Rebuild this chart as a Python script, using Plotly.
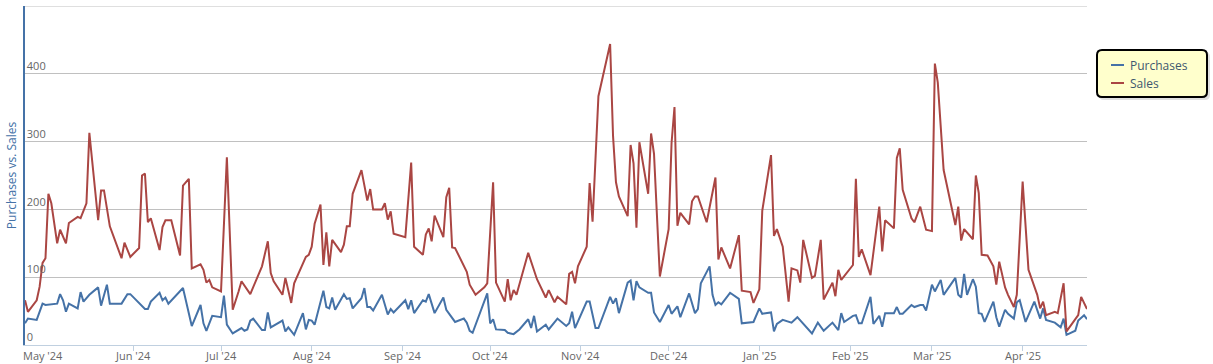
import plotly.graph_objects as go

# ---- data ----
sales_dates = [
    "2024-04-25","2024-04-26","2024-04-29","2024-04-30","2024-05-01","2024-05-02","2024-05-03","2024-05-04",
    "2024-05-06","2024-05-07","2024-05-09","2024-05-10","2024-05-13","2024-05-14","2024-05-16","2024-05-17",
    "2024-05-20","2024-05-21","2024-05-22","2024-05-24","2024-05-28","2024-05-29","2024-05-31","2024-06-03",
    "2024-06-04","2024-06-05","2024-06-06","2024-06-07","2024-06-10","2024-06-11","2024-06-12","2024-06-14",
    "2024-06-17","2024-06-18","2024-06-20","2024-06-21","2024-06-24","2024-06-25","2024-06-26","2024-06-27",
    "2024-06-28","2024-07-01","2024-07-03","2024-07-05","2024-07-07","2024-07-08","2024-07-11","2024-07-15",
    "2024-07-17","2024-07-18","2024-07-19","2024-07-22","2024-07-23","2024-07-25","2024-07-26","2024-07-30",
    "2024-07-31","2024-08-01","2024-08-02","2024-08-04","2024-08-05","2024-08-06","2024-08-07","2024-08-08",
    "2024-08-11","2024-08-12","2024-08-13","2024-08-14","2024-08-15","2024-08-18","2024-08-20","2024-08-21",
    "2024-08-22","2024-08-25","2024-08-26","2024-08-27","2024-08-28","2024-08-29","2024-09-02","2024-09-04",
    "2024-09-05","2024-09-08","2024-09-09","2024-09-10","2024-09-11","2024-09-12","2024-09-15","2024-09-16",
    "2024-09-17","2024-09-18","2024-09-19","2024-09-23","2024-09-24","2024-09-26","2024-09-29","2024-09-30",
    "2024-10-02","2024-10-03","2024-10-06","2024-10-07","2024-10-08","2024-10-09","2024-10-10","2024-10-14",
    "2024-10-17","2024-10-20","2024-10-21","2024-10-23","2024-10-24","2024-10-27","2024-10-28","2024-10-29",
    "2024-10-30","2024-10-31","2024-11-03","2024-11-04","2024-11-05","2024-11-07","2024-11-11","2024-11-12",
    "2024-11-13","2024-11-14","2024-11-17","2024-11-18","2024-11-19","2024-11-20","2024-11-21","2024-11-24",
    "2024-11-25","2024-11-26","2024-11-28","2024-12-01","2024-12-02","2024-12-03","2024-12-04","2024-12-05",
    "2024-12-08","2024-12-09","2024-12-10","2024-12-11","2024-12-14","2024-12-17","2024-12-18","2024-12-19",
    "2024-12-22","2024-12-25","2024-12-26","2024-12-29","2024-12-30","2025-01-01","2025-01-02","2025-01-05",
    "2025-01-06","2025-01-07","2025-01-09","2025-01-11","2025-01-12","2025-01-14","2025-01-15","2025-01-16",
    "2025-01-19","2025-01-20","2025-01-22","2025-01-23","2025-01-26","2025-01-27","2025-01-28","2025-01-29",
    "2025-02-02","2025-02-03","2025-02-04","2025-02-05","2025-02-08","2025-02-11","2025-02-12","2025-02-13",
    "2025-02-16","2025-02-17","2025-02-18","2025-02-19","2025-02-22","2025-02-23","2025-02-25","2025-02-27",
    "2025-03-01","2025-03-02","2025-03-03","2025-03-05","2025-03-09","2025-03-10","2025-03-11","2025-03-12",
    "2025-03-15","2025-03-16","2025-03-17","2025-03-18","2025-03-20","2025-03-22","2025-03-23","2025-03-24",
    "2025-03-26","2025-03-27","2025-03-29","2025-03-30","2025-04-01","2025-04-03","2025-04-06","2025-04-07",
    "2025-04-08","2025-04-09","2025-04-12","2025-04-13","2025-04-15","2025-04-16","2025-04-20","2025-04-21",
    "2025-04-23",
]
sales_values = [
    66, 49, 66, 86, 121, 128, 223, 209,
    150, 170, 150, 180, 189, 187, 209, 313,
    184, 228, 228, 175, 128, 151, 130, 143,
    250, 253, 181, 187, 140, 174, 184, 184,
    132, 235, 245, 113, 119, 111, 92, 96,
    85, 79, 277, 52, 79, 94, 75, 116,
    153, 106, 94, 74, 99, 62, 91, 130,
    133, 145, 179, 207, 118, 166, 116, 155,
    137, 148, 175, 175, 223, 258, 213, 230,
    200, 200, 209, 185, 197, 164, 159, 269,
    145, 133, 163, 172, 153, 191, 159, 218,
    232, 144, 143, 108, 89, 74, 85, 91,
    240, 92, 64, 97, 66, 81, 74, 136,
    97, 70, 81, 63, 71, 60, 105, 108,
    91, 116, 145, 239, 182, 367, 444, 308,
    240, 219, 190, 295, 268, 173, 299, 223,
    312, 282, 101, 171, 298, 351, 176, 195,
    178, 212, 219, 219, 181, 247, 126, 144,
    113, 162, 80, 78, 62, 82, 198, 280,
    161, 171, 145, 64, 113, 110, 92, 155,
    99, 102, 155, 67, 92, 72, 111, 96,
    118, 245, 130, 141, 103, 204, 138, 184,
    172, 276, 290, 229, 187, 181, 204, 170,
    168, 415, 387, 258, 177, 204, 154, 171,
    156, 250, 224, 133, 132, 116, 89, 123,
    85, 74, 56, 74, 241, 111, 74, 54,
    64, 44, 49, 47, 91, 20, 44, 71,
    53,
]

purchase_dates = [
    "2024-04-25","2024-04-26","2024-04-29","2024-05-01","2024-05-02","2024-05-06","2024-05-07","2024-05-08",
    "2024-05-09","2024-05-10","2024-05-13","2024-05-14","2024-05-15","2024-05-17","2024-05-20","2024-05-21",
    "2024-05-23","2024-05-24","2024-05-28","2024-05-30","2024-05-31","2024-06-05","2024-06-06","2024-06-07",
    "2024-06-10","2024-06-11","2024-06-12","2024-06-13","2024-06-18","2024-06-21","2024-06-24","2024-06-25",
    "2024-06-26","2024-06-28","2024-07-01","2024-07-02","2024-07-03","2024-07-05","2024-07-08","2024-07-09",
    "2024-07-10","2024-07-11","2024-07-12","2024-07-15","2024-07-16","2024-07-17","2024-07-18","2024-07-22",
    "2024-07-23","2024-07-24","2024-07-26","2024-07-29","2024-07-30","2024-07-31","2024-08-01","2024-08-02",
    "2024-08-05","2024-08-06","2024-08-07","2024-08-08","2024-08-09","2024-08-12","2024-08-13","2024-08-14",
    "2024-08-15","2024-08-18","2024-08-19","2024-08-20","2024-08-21","2024-08-22","2024-08-25","2024-08-27",
    "2024-08-28","2024-08-29","2024-09-02","2024-09-03","2024-09-04","2024-09-05","2024-09-08","2024-09-09",
    "2024-09-10","2024-09-12","2024-09-15","2024-09-16","2024-09-19","2024-09-22","2024-09-23","2024-09-24",
    "2024-09-25","2024-09-30","2024-10-01","2024-10-02","2024-10-03","2024-10-06","2024-10-07","2024-10-09",
    "2024-10-11","2024-10-14","2024-10-15","2024-10-16","2024-10-17","2024-10-20","2024-10-21","2024-10-24",
    "2024-10-27","2024-10-28","2024-10-29","2024-10-30","2024-11-03","2024-11-04","2024-11-06","2024-11-07",
    "2024-11-11","2024-11-12","2024-11-13","2024-11-14","2024-11-17","2024-11-18","2024-11-19","2024-11-20",
    "2024-11-21","2024-11-24","2024-11-25","2024-11-26","2024-11-28","2024-12-01","2024-12-02","2024-12-04",
    "2024-12-05","2024-12-08","2024-12-10","2024-12-11","2024-12-12","2024-12-15","2024-12-16","2024-12-17",
    "2024-12-18","2024-12-19","2024-12-22","2024-12-25","2024-12-26","2024-12-30","2025-01-01","2025-01-02",
    "2025-01-05","2025-01-06","2025-01-07","2025-01-09","2025-01-12","2025-01-14","2025-01-19","2025-01-21",
    "2025-01-23","2025-01-26","2025-01-28","2025-01-29","2025-01-30","2025-02-02","2025-02-03","2025-02-04",
    "2025-02-05","2025-02-08","2025-02-09","2025-02-11","2025-02-12","2025-02-13","2025-02-16","2025-02-17",
    "2025-02-18","2025-02-19","2025-02-22","2025-02-23","2025-02-25","2025-02-26","2025-02-27","2025-03-01",
    "2025-03-02","2025-03-04","2025-03-05","2025-03-09","2025-03-10","2025-03-11","2025-03-12","2025-03-13",
    "2025-03-15","2025-03-16","2025-03-17","2025-03-18","2025-03-19","2025-03-22","2025-03-23","2025-03-24",
    "2025-03-26","2025-03-27","2025-03-29","2025-03-30","2025-03-31","2025-04-02","2025-04-05","2025-04-07",
    "2025-04-08","2025-04-09","2025-04-12","2025-04-14","2025-04-15","2025-04-16","2025-04-19","2025-04-20",
    "2025-04-22","2025-04-23",
]
purchase_values = [
    32, 39, 37, 61, 59, 61, 75, 66,
    49, 61, 54, 78, 64, 74, 85, 58,
    89, 61, 61, 75, 75, 53, 53, 64,
    77, 66, 70, 61, 84, 28, 59, 32,
    21, 43, 41, 73, 30, 17, 25, 21,
    23, 36, 39, 22, 22, 48, 26, 36,
    20, 26, 15, 47, 23, 37, 36, 30,
    80, 56, 54, 70, 52, 75, 68, 69,
    54, 69, 84, 56, 56, 51, 74, 45,
    53, 48, 66, 53, 66, 47, 66, 64,
    75, 47, 70, 52, 34, 39, 33, 21,
    18, 76, 32, 38, 23, 22, 18, 16,
    23, 38, 25, 43, 20, 30, 23, 39,
    28, 32, 49, 25, 64, 64, 25, 25,
    71, 61, 69, 47, 92, 95, 66, 94,
    85, 77, 77, 48, 34, 59, 46, 57,
    41, 76, 47, 53, 91, 116, 74, 59,
    63, 60, 77, 68, 32, 34, 54, 46,
    48, 20, 31, 37, 33, 41, 17, 33,
    21, 33, 22, 47, 34, 43, 44, 32,
    32, 71, 31, 43, 27, 47, 47, 56,
    46, 46, 59, 56, 59, 59, 51, 89,
    79, 96, 74, 99, 74, 70, 105, 74,
    97, 86, 47, 46, 34, 64, 41, 27,
    52, 46, 39, 63, 66, 34, 64, 39,
    54, 37, 33, 26, 39, 15, 21, 36,
    44, 38,
]

series_names = ["Purchases", "Sales"]
series_colors = ["#4572A7", "#AA4643"]
x_tick_dates = ["2024-05-01", "2024-06-01", "2024-07-01", "2024-08-01", "2024-09-01", "2024-10-01",
                "2024-11-01", "2024-12-01", "2025-01-01", "2025-02-01", "2025-03-01", "2025-04-01"]
x_tick_labels = ["May '24", "Jun '24", "Jul '24", "Aug '24", "Sep '24", "Oct '24",
                 "Nov '24", "Dec '24", "Jan '25", "Feb '25", "Mar '25", "Apr '25"]
y_tick_values = [0, 100, 200, 300, 400, 500]
y_tick_labels = ["0", "100", "200", "300", "400", ""]

FONT = "Open Sans"
W, H = 1213, 364
ML, MR, MT, MB = 25, 126, 6, 19
PW, PH = W - ML - MR, H - MT - MB


def px(x):  # pixel -> paper x
    return (x - ML) / PW


def py(y):  # pixel -> paper y
    return (H - MB - y) / PH


fig = go.Figure()
fig.add_trace(go.Scatter(x=purchase_dates, y=purchase_values, mode="lines", name=series_names[0],
                         line=dict(color=series_colors[0], width=2)))
fig.add_trace(go.Scatter(x=sales_dates, y=sales_values, mode="lines", name=series_names[1],
                         line=dict(color=series_colors[1], width=2)))

# ---- custom legend box (rounded, with shadow) ----
def rounded_box(x0, y0, x1, y1, r):
    rx, ry = r / PW, r / PH
    X0, X1, Y0, Y1 = px(x0), px(x1), py(y1), py(y0)  # Y0 bottom, Y1 top (paper)
    return (f"M {X0+rx},{Y1} L {X1-rx},{Y1} Q {X1},{Y1} {X1},{Y1-ry} "
            f"L {X1},{Y0+ry} Q {X1},{Y0} {X1-rx},{Y0} L {X0+rx},{Y0} "
            f"Q {X0},{Y0} {X0},{Y0+ry} L {X0},{Y1-ry} Q {X0},{Y1} {X0+rx},{Y1} Z")

shapes = [
    dict(type="line", xref="paper", yref="y", x0=0, x1=1, y0=500, y1=500,
         line=dict(color="#C0C0C0", width=1), layer="below"),
    dict(type="path", xref="paper", yref="paper", path=rounded_box(1099, 52, 1210, 100, 5),
         fillcolor="rgba(0,0,0,0.12)", line=dict(width=0)),
    dict(type="path", xref="paper", yref="paper", path=rounded_box(1097, 50, 1207, 97, 5),
         fillcolor="#FFFFCC", line=dict(color="#000000", width=2)),
]
annotations = []
legend_rows = [65, 83]
for name, color, yrow in zip(series_names, series_colors, legend_rows):
    shapes.append(dict(type="line", xref="paper", yref="paper", x0=px(1111), x1=px(1124),
                       y0=py(yrow), y1=py(yrow), line=dict(color=color, width=2)))
    annotations.append(dict(text=name, xref="paper", yref="paper", x=px(1128), y=py(yrow),
                            xanchor="left", yanchor="middle", showarrow=False,
                            font=dict(family=FONT, size=12, color="#3E576F")))

# x-axis month labels (placed under each month tick)
for d, lab in zip(x_tick_dates, x_tick_labels):
    annotations.append(dict(text=lab, xref="x", yref="paper", x=d, y=py(355),
                            xanchor="center", yanchor="middle", showarrow=False,
                            font=dict(family=FONT, size=11, color="#666666")))

fig.update_layout(
    width=W, height=H,
    margin=dict(l=ML, r=MR, t=MT, b=MB),
    plot_bgcolor="white", paper_bgcolor="white",
    font=dict(family=FONT, size=11, color="#666666"),
    showlegend=False,
    shapes=shapes,
    annotations=annotations,
    xaxis=dict(type="date", range=["2024-04-25", "2025-04-23"],
               tickmode="array", tickvals=x_tick_dates, ticktext=x_tick_labels,
               showticklabels=False,
               ticks="outside", ticklen=5, tickcolor="#C0D0E0",
               showline=True, linecolor="#C0D0E0", linewidth=1,
               showgrid=False, zeroline=False, automargin=False),
    yaxis=dict(range=[0, 500], tickmode="array", tickvals=y_tick_values, ticktext=y_tick_labels,
               ticklabelposition="inside top", ticks="",
               showgrid=True, gridcolor="#C0C0C0", gridwidth=1,
               showline=True, linecolor="#4572A7", linewidth=2,
               zeroline=False, automargin=False,
               tickfont=dict(family=FONT, size=11, color="#666666"),
               title=dict(text="Purchases vs. Sales", standoff=8,
                          font=dict(family=FONT, size=12, color="#4572A7"))),
)

fig.write_html("out.html", config={"displayModeBar": False},
               post_script="document.body.style.margin='0';")
